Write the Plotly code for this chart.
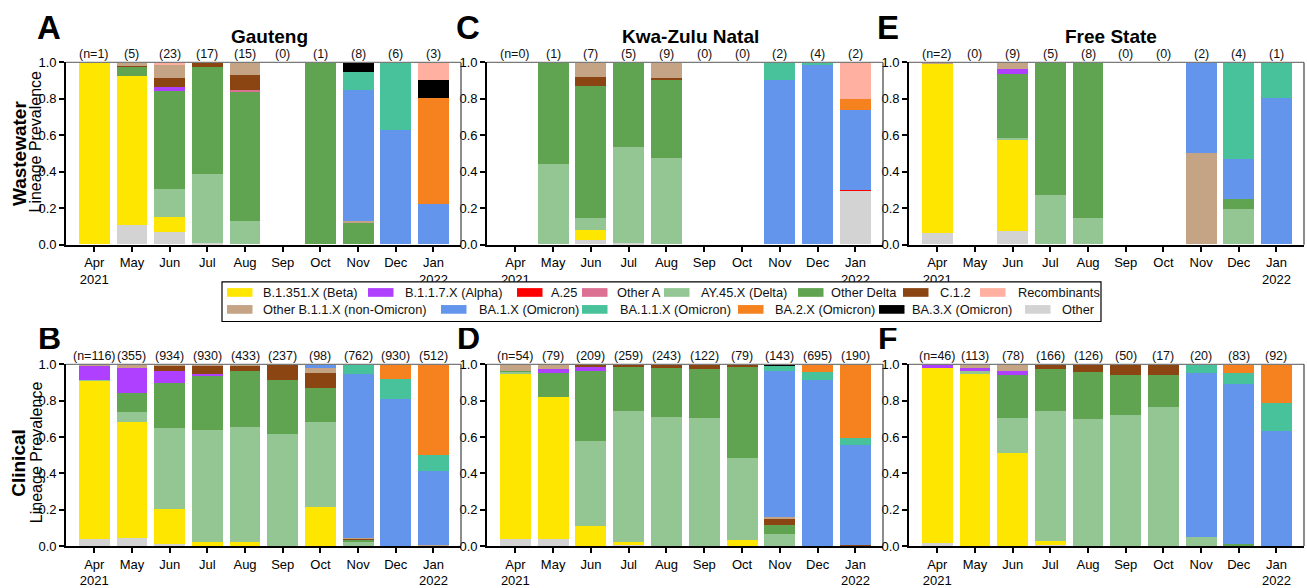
import plotly.graph_objects as go

W, H = 1307, 588
FONT = "Liberation Sans, Arial, sans-serif"

MONTHS = ["Apr", "May", "Jun", "Jul", "Aug", "Sep", "Oct", "Nov", "Dec", "Jan"]
TICK_LABELS = ["Apr<br>2021", "May", "Jun", "Jul", "Aug", "Sep", "Oct", "Nov", "Dec", "Jan<br>2022"]

BETA, ALPHA, A25, OTHER_A = "B.1.351.X (Beta)", "B.1.1.7.X (Alpha)", "A.25", "Other A"
AY45, OTHER_DELTA, C12, RECOMB = "AY.45.X (Delta)", "Other Delta", "C.1.2", "Recombinants"
OTHER_B11, BA1, BA11 = "Other B.1.1.X (non-Omicron)", "BA.1.X (Omicron)", "BA.1.1.X (Omicron)"
BA2, BA3, OTHER = "BA.2.X (Omicron)", "BA.3.X (Omicron)", "Other"

# stacking order, bottom to top
STACK_ORDER = [OTHER, BETA, A25, AY45, OTHER_DELTA, OTHER_A, ALPHA, C12, OTHER_B11,
               BA1, BA11, BA2, BA3, RECOMB]

COLORS = {
    BETA: "#FFE600", ALPHA: "#B040FF", A25: "#FF0000", OTHER_A: "#DB7093",
    AY45: "#93C693", OTHER_DELTA: "#60A350", C12: "#8B4513", RECOMB: "#FFB0A0",
    OTHER_B11: "#C4A484", BA1: "#6495ED", BA11: "#48C29B", BA2: "#F5821F",
    BA3: "#000000", OTHER: "#D3D3D3",
}

# ---- Panel A: Gauteng wastewater
GAUTENG_WW = {
    OTHER:       [0, .108, .065, .009, 0, 0, 0, 0, 0, 0],
    BETA:        [1.0, .814, .087, 0, 0, 0, 0, 0, 0, 0],
    AY45:        [0, 0, .149, .377, .127, 0, 0, 0, 0, 0],
    OTHER_DELTA: [0, .053, .538, .589, .712, 0, 1.0, .122, 0, 0],
    OTHER_A:     [0, 0, 0, 0, .007, 0, 0, 0, 0, 0],
    ALPHA:       [0, 0, .025, 0, 0, 0, 0, 0, 0, 0],
    C12:         [0, .005, .048, .025, .081, 0, 0, 0, 0, 0],
    OTHER_B11:   [0, .020, .069, 0, .073, 0, 0, .005, 0, 0],
    BA1:         [0, 0, 0, 0, 0, 0, 0, .721, .627, .221],
    BA11:        [0, 0, 0, 0, 0, 0, 0, .095, .373, 0],
    BA2:         [0, 0, 0, 0, 0, 0, 0, 0, 0, .583],
    BA3:         [0, 0, 0, 0, 0, 0, 0, .057, 0, .097],
    RECOMB:      [0, 0, .019, 0, 0, 0, 0, 0, 0, .099],
}
GAUTENG_WW_N = ["(n=1)", "(5)", "(23)", "(17)", "(15)", "(0)", "(1)", "(8)", "(6)", "(3)"]

# ---- Panel C: Kwa-Zulu Natal wastewater
KZN_WW = {
    OTHER:       [0, 0, .025, .007, 0, 0, 0, 0, 0, .295],
    BETA:        [0, 0, .053, 0, 0, 0, 0, 0, 0, 0],
    A25:         [0, 0, 0, 0, 0, 0, 0, 0, 0, .003],
    AY45:        [0, .439, .064, .528, .471, 0, 0, 0, 0, 0],
    OTHER_DELTA: [0, .561, .727, .465, .430, 0, 0, 0, 0, 0],
    C12:         [0, 0, .048, 0, .012, 0, 0, 0, 0, 0],
    OTHER_B11:   [0, 0, .083, 0, .087, 0, 0, 0, 0, 0],
    BA1:         [0, 0, 0, 0, 0, 0, 0, .901, .981, .438],
    BA11:        [0, 0, 0, 0, 0, 0, 0, .099, .019, 0],
    BA2:         [0, 0, 0, 0, 0, 0, 0, 0, 0, .059],
    RECOMB:      [0, 0, 0, 0, 0, 0, 0, 0, 0, .205],
}
KZN_WW_N = ["(n=0)", "(1)", "(7)", "(5)", "(9)", "(0)", "(0)", "(2)", "(4)", "(2)"]

# ---- Panel E: Free State wastewater
FS_WW = {
    OTHER:       [.062, 0, .074, 0, 0, 0, 0, 0, 0, 0],
    BETA:        [.929, 0, .503, 0, 0, 0, 0, 0, 0, 0],
    AY45:        [0, 0, .007, .269, .147, 0, 0, 0, .195, 0],
    OTHER_DELTA: [0, 0, .352, .731, .853, 0, 0, 0, .053, 0],
    ALPHA:       [0, 0, .023, 0, 0, 0, 0, 0, 0, 0],
    OTHER_B11:   [.009, 0, .041, 0, 0, 0, 0, .5, 0, 0],
    BA1:         [0, 0, 0, 0, 0, 0, 0, .5, .219, .8],
    BA11:        [0, 0, 0, 0, 0, 0, 0, 0, .533, .2],
}
FS_WW_N = ["(n=2)", "(0)", "(9)", "(5)", "(8)", "(0)", "(0)", "(2)", "(4)", "(1)"]

# ---- Panel B: Gauteng clinical
GAUTENG_CL = {
    OTHER:       [.034, .043, .011, 0, 0, 0, 0, 0, 0, 0],
    BETA:        [.874, .635, .188, .021, .021, 0, .213, 0, 0, 0],
    AY45:        [.005, .057, .446, .615, .634, .613, .469, .021, 0, 0],
    OTHER_DELTA: [0, .103, .250, .302, .304, .298, .185, .013, 0, 0],
    ALPHA:       [.078, .139, .064, .007, 0, 0, 0, 0, 0, 0],
    C12:         [0, 0, .029, .043, .032, .089, .081, .005, 0, 0],
    OTHER_B11:   [.009, .023, .012, .012, .009, 0, .032, .004, 0, .005],
    BA1:         [0, 0, 0, 0, 0, 0, .020, .900, .805, .405],
    BA11:        [0, 0, 0, 0, 0, 0, 0, .057, .110, .089],
    BA2:         [0, 0, 0, 0, 0, 0, 0, 0, .085, .501],
}
GAUTENG_CL_N = ["(n=116)", "(355)", "(934)", "(930)", "(433)", "(237)", "(98)", "(762)", "(930)", "(512)"]

# ---- Panel D: Kwa-Zulu Natal clinical
KZN_CL = {
    OTHER:       [.039, .039, 0, .005, 0, 0, 0, 0, 0, 0],
    BETA:        [.904, .782, .107, .016, 0, 0, .032, 0, 0, 0],
    AY45:        [.013, 0, .468, .720, .709, .703, .448, .064, 0, 0],
    OTHER_DELTA: [.007, .127, .389, .243, .271, .272, .506, .051, 0, 0],
    ALPHA:       [0, .027, .024, 0, 0, 0, 0, 0, 0, 0],
    C12:         [0, 0, .007, .016, .020, .025, .014, .029, 0, .005],
    OTHER_B11:   [.037, .025, .005, 0, 0, 0, 0, .014, 0, 0],
    BA1:         [0, 0, 0, 0, 0, 0, 0, .806, .911, .547],
    BA11:        [0, 0, 0, 0, 0, 0, 0, .027, .043, .043],
    BA2:         [0, 0, 0, 0, 0, 0, 0, 0, .046, .405],
    BA3:         [0, 0, 0, 0, 0, 0, 0, .009, 0, 0],
}
KZN_CL_N = ["(n=54)", "(79)", "(209)", "(259)", "(243)", "(122)", "(79)", "(143)", "(695)", "(190)"]

# ---- Panel F: Free State clinical
FS_CL = {
    OTHER:       [.016, 0, 0, .005, 0, 0, 0, 0, 0, 0],
    BETA:        [.961, .948, .512, .022, 0, 0, 0, 0, 0, 0],
    AY45:        [0, .011, .191, .714, .698, .719, .762, .048, 0, 0],
    OTHER_DELTA: [0, 0, .235, .234, .256, .219, .176, 0, .011, 0],
    ALPHA:       [.023, .021, .021, 0, 0, 0, 0, 0, 0, 0],
    C12:         [0, 0, 0, .025, .046, .062, .062, 0, 0, 0],
    OTHER_B11:   [0, .020, .041, 0, 0, 0, 0, 0, 0, 0],
    BA1:         [0, 0, 0, 0, 0, 0, 0, .900, .881, .629],
    BA11:        [0, 0, 0, 0, 0, 0, 0, .052, .056, .156],
    BA2:         [0, 0, 0, 0, 0, 0, 0, 0, .052, .215],
}
FS_CL_N = ["(n=46)", "(113)", "(78)", "(166)", "(126)", "(50)", "(17)", "(20)", "(83)", "(92)"]

PANELS = [
    (GAUTENG_WW, GAUTENG_WW_N, "A", "Gauteng"),
    (KZN_WW, KZN_WW_N, "C", "Kwa-Zulu Natal"),
    (FS_WW, FS_WW_N, "E", "Free State"),
    (GAUTENG_CL, GAUTENG_CL_N, "B", None),
    (KZN_CL, KZN_CL_N, "D", None),
    (FS_CL, FS_CL_N, "F", None),
]

LEGEND_ROWS = [
    [BETA, ALPHA, A25, OTHER_A, AY45, OTHER_DELTA, C12, RECOMB],
    [OTHER_B11, BA1, BA11, BA2, BA3, OTHER],
]

# ---------------- layout geometry (pixels) ----------------
def px(x):
    return x / W

def py(y):
    return 1 - y / H

X_DOMAINS = [(66, 461), (487, 883), (909, 1304)]
Y_DOMAINS = [(57.3, 245.7), (369.3, 557)]

fig = go.Figure()
layout = dict(
    width=W, height=H, margin=dict(l=0, r=0, t=0, b=0),
    paper_bgcolor="white", plot_bgcolor="white",
    barmode="stack", bargap=0, showlegend=False,
    font=dict(family=FONT, size=13, color="black"),
)
annotations = []
shapes = []

for i, (data, counts, letter, title) in enumerate(PANELS):
    k = i + 1
    row, col = divmod(i, 3)
    xd = X_DOMAINS[col]
    yd = Y_DOMAINS[row]
    xa = "x" if k == 1 else f"x{k}"
    ya = "y" if k == 1 else f"y{k}"
    for name in STACK_ORDER:
        if name not in data:
            continue
        fig.add_trace(go.Bar(
            x=MONTHS, y=data[name], name=name, width=0.82,
            marker=dict(color=COLORS[name], line=dict(width=0)),
            xaxis=xa, yaxis=ya, showlegend=False,
        ))
    layout["xaxis" if k == 1 else f"xaxis{k}"] = dict(
        domain=[px(xd[0]), px(xd[1])], anchor=ya,
        type="category", categoryorder="array", categoryarray=MONTHS,
        range=[-0.75, 9.73], tickmode="array", tickvals=MONTHS, ticktext=TICK_LABELS,
        ticks="outside", ticklen=5, tickwidth=1.5, tickcolor="black",
        showline=True, linecolor="black", linewidth=1.8, showgrid=False,
        zeroline=False, tickfont=dict(size=13, family=FONT), fixedrange=True,
    )
    layout["yaxis" if k == 1 else f"yaxis{k}"] = dict(
        domain=[py(yd[1]), py(yd[0])], anchor=xa, range=[0, 1],
        tickmode="array", tickvals=[0, 0.2, 0.4, 0.6, 0.8, 1.0],
        ticktext=["0.0", "0.2", "0.4", "0.6", "0.8", "1.0"],
        ticks="outside", ticklen=5, tickwidth=1.5, tickcolor="black",
        showline=True, linecolor="black", linewidth=1.8, showgrid=False,
        zeroline=False, tickfont=dict(size=13, family=FONT), fixedrange=True,
    )
    # top and right frame lines
    shapes.append(dict(type="line", xref=f"{xa} domain", yref=f"{ya} domain",
                       x0=0, x1=1, y0=1, y1=1, line=dict(color="#7a7a7a", width=1.2)))
    shapes.append(dict(type="line", xref=f"{xa} domain", yref=f"{ya} domain",
                       x0=1, x1=1, y0=0, y1=1, line=dict(color="#404040", width=1.2)))
    # sample counts above bars
    for m, c in zip(MONTHS, counts):
        annotations.append(dict(x=m, y=1.0, xref=xa, yref=ya, text=c, showarrow=False,
                                yanchor="bottom", yshift=-1,
                                font=dict(size=12.5, family=FONT, color="#111")))
    # panel letter
    lx = {0: 49, 1: 468, 2: 888}[col]
    if row == 0:
        annotations.append(dict(x=px(lx), y=py(21), xref="paper", yref="paper", text=f"<b>{letter}</b>",
                                showarrow=False, xanchor="center", yanchor="middle", height=30,
                                font=dict(size=33, family=FONT, color="black")))
    else:
        annotations.append(dict(x=px(lx), y=py(361.5), xref="paper", yref="paper", text=f"<b>{letter}</b>",
                                showarrow=False, xanchor="center", yanchor="bottom", height=28,
                                borderpad=0, valign="bottom",
                                font=dict(size=32, family=FONT, color="black")))
    if title:
        tx = {0: 269, 1: 691, 2: 1111}[col]
        annotations.append(dict(x=px(tx), y=py(30), xref="paper", yref="paper", text=f"<b>{title}</b>",
                                showarrow=False, xanchor="center", yanchor="middle",
                                font=dict(size=19, family=FONT, color="black")))

# row titles
for bold, cy_bold, cy_lin in [("Wastewater", 152, 139), ("Clinical", 471, 460)]:
    annotations.append(dict(x=px(19), y=py(cy_bold), xref="paper", yref="paper", text=f"<b>{bold}</b>",
                            textangle=-90, showarrow=False, xanchor="center", yanchor="middle",
                            font=dict(size=19, family=FONT, color="black")))
    annotations.append(dict(x=px(36), y=py(cy_lin), xref="paper", yref="paper", text="Lineage Prevalence",
                            textangle=-90, showarrow=False, xanchor="center", yanchor="middle",
                            font=dict(size=16, family=FONT, color="black")))

# legend (manual)
LEG_SWATCH_X = [[227, 368, 517, 582, 664, 798, 903, 980],
                [227, 441, 582, 738, 879, 1025]]
LEG_TEXT_X = [[261, 403, 549, 615, 699, 829, 938, 1016],
              [261, 477, 618, 773, 910, 1060]]
LEG_ROW_Y = [295, 312.5]
shapes.append(dict(type="rect", xref="paper", yref="paper", x0=px(222), x1=px(1101),
                   y0=py(325), y1=py(284), line=dict(color="black", width=1.2), fillcolor="white"))
for r, names in enumerate(LEGEND_ROWS):
    yc = LEG_ROW_Y[r]
    for j, name in enumerate(names):
        sx = LEG_SWATCH_X[r][j]
        shapes.append(dict(type="rect", xref="paper", yref="paper",
                           x0=px(sx), x1=px(sx + 25.5), y0=py(yc + 4.5), y1=py(yc - 4.5),
                           line=dict(width=0), fillcolor=COLORS[name]))
        annotations.append(dict(x=px(LEG_TEXT_X[r][j]), y=py(yc), xref="paper", yref="paper",
                                text=name, showarrow=False, xanchor="left", yanchor="middle",
                                font=dict(size=12.8, family=FONT, color="#111")))

layout["annotations"] = annotations
layout["shapes"] = shapes
fig.update_layout(**layout)
fig.write_html("out.html")
